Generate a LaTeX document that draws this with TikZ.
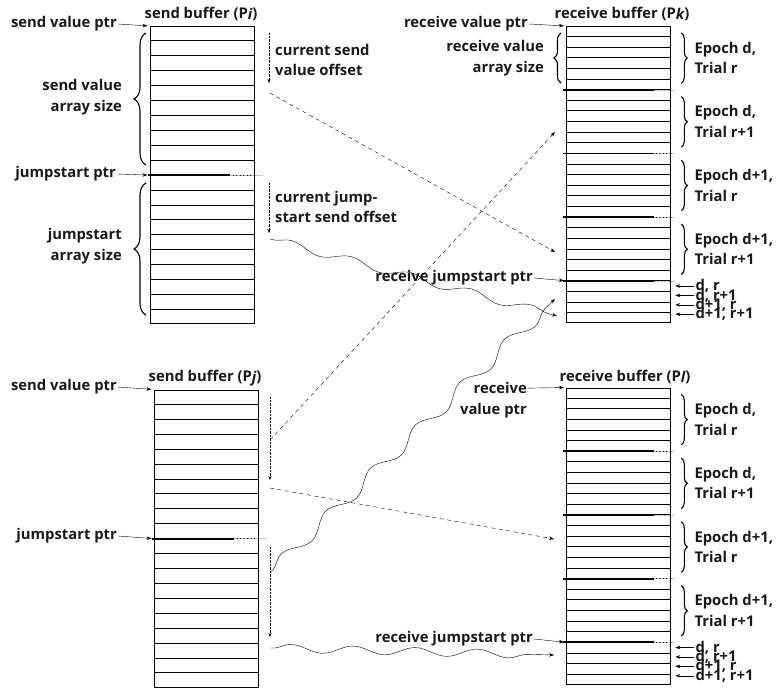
\documentclass[tikz,border=0pt]{standalone}
\usepackage{fontspec}
\setmainfont{Open Sans}
\usetikzlibrary{arrows.meta,calc,decorations.pathreplacing,decorations.pathmorphing}

\begin{document}
\begin{tikzpicture}[x=1pt, y=-1pt,
    every node/.style={font=\bfseries\fontsize{14.8}{20.5}\selectfont, inner sep=1pt, text=black!90},
    buf/.style={draw, line width=1.3pt, anchor=north west, minimum width=104pt, inner sep=0pt},
    row/.style={line width=0.9pt},
    grp/.style={line width=1.8pt},
    ext/.style={gray!60, densely dotted, thin},
    ptr/.style={-{Stealth[length=5pt,width=3.5pt]}, thin, shorten >=2pt},
    offs/.style={-{Stealth[length=4pt,width=3pt]}, densely dotted, thin},
    xfer/.style={-{Stealth[length=5pt,width=3.5pt]}, dash pattern=on 4pt off 3.5pt, thin},
    jump/.style={-{Stealth[length=5pt,width=3.5pt]}, thin, decorate,
        decoration={snake, amplitude=#1, segment length=62pt, pre length=2pt, post length=7pt}},
    jump/.default=4pt,
    brc/.style={decorate, decoration={brace, amplitude=#1}, line width=1.1pt}
]
    \useasboundingbox (0,0) rectangle (777,688);

    % the four buffers
    \node[buf, minimum height=297pt] (bufi) at (149.5,26) {};
    \node[buf, minimum height=297pt] (bufj) at (153.5,389.5) {};
    \node[buf, minimum height=296pt] (bufk) at (566,26) {};
    \node[buf, minimum height=296pt] (bufl) at (566,387.5) {};

    \foreach \b in {bufi,bufj}{
        \foreach \k in {1,...,19}
            \draw[row] ($(\b.north west)!\k/20!(\b.south west)$) -- ($(\b.north east)!\k/20!(\b.south east)$);
        \draw[grp] ($(\b.north west)!0.5!(\b.south west)$) +(-2,0) -- +(80,0);
        \draw[ext] ($(\b.north west)!0.5!(\b.south west)$) +(80,0) -- +(113,0);
    }
    \foreach \b in {bufk,bufl}{
        \foreach \k in {1,...,27}
            \draw[row] ($(\b.north west)!\k/28!(\b.south west)$) -- ($(\b.north east)!\k/28!(\b.south east)$);
        \foreach \g in {6,12,18,24}{
            \draw[grp] ($(\b.north west)!\g/28!(\b.south west)$) +(-3,0) -- +(88,0);
            \draw[ext] ($(\b.north west)!\g/28!(\b.south west)$) +(88,0) -- +(108,0);
        }
        % epoch braces
        \foreach \g/\lab in {0/{Epoch d,\\Trial r}, 1/{Epoch d,\\Trial r+1},
                             2/{Epoch d+1,\\Trial r}, 3/{Epoch d+1,\\Trial r+1}}{
            \draw[brc=6pt] ($(\b.north east)!{(\g*6+0.65)/28}!(\b.south east)+(10,0)$)
                        -- ($(\b.north east)!{(\g*6+5.4)/28}!(\b.south east)+(10,0)$);
            \node[anchor=west, align=left] (ep\b\g) at ($(\b.north east)!{(\g*6+3)/28}!(\b.south east)+(22,0)$) {\lab};
        }
        % trailing single rows
        \foreach \j/\lab in {0/{d, r}, 1/{d, r+1}, 2/{d+1, r}, 3/{d+1, r+1}}{
            \node[anchor=west] (sl\b\j) at ($(\b.north east)!24/28!(\b.south east)+(23,5.2+9.4*\j)$) {\lab};
            \coordinate (se\b\j) at ($(\b.east |- sl\b\j.west)+(4,0)$);
            \draw[ptr, shorten >=0pt] (sl\b\j.west) -- (se\b\j);
        }
    }

    % buffer titles
    \node (tbi) at (201,14) {send buffer (P\raisebox{-1.5pt}{\itshape i})};
    \node (tbj) at (205,378) {send buffer (P\raisebox{-1.5pt}{\itshape j})};
    \node (tbk) at (622,14) {receive buffer (P\raisebox{-1.5pt}{\itshape k})};
    \node (tbl) at (625,377) {receive buffer (P\raisebox{-1.5pt}{\itshape l})};

    % sender P_i
    \coordinate (jsi) at ($(bufi.north west)!0.5!(bufi.south west)$);
    \node[anchor=east] (svpi) at (118,24) {send value ptr};
    \node[anchor=east] (jspi) at (117,174) {jumpstart ptr};
    \node[anchor=east, align=right] (svai) at (123,97) {send value\\array size};
    \node[anchor=east, align=right] (jsai) at (123,246) {jumpstart\\array size};
    \draw[ptr] (svpi.east) -- (bufi.north west);
    \draw[ptr] (jspi.east) -- (jsi);
    \draw[brc=12pt] (146,165) -- (146,33);
    \draw[brc=12pt] (146,315) -- (146,183);

    \node[anchor=west, align=left] (csvo) at (274,60) {current send\\value offset};
    \node[anchor=west, align=left] (cjso) at (274,207) {current jump-\\start send offset};
    \coordinate (oi1) at (269,33);  \coordinate (oi2) at (269,83);
    \coordinate (oi3) at (269,183); \coordinate (oi4) at (269,233);
    \draw[offs] (oi1) -- (oi2);
    \draw[offs] (oi3) -- (oi4);

    % sender P_j
    \coordinate (jsj) at ($(bufj.north west)!0.5!(bufj.south west)$);
    \node[anchor=east] (svpj) at (118,387) {send value ptr};
    \node[anchor=east] (jspj) at (118,536) {jumpstart ptr};
    \draw[ptr] (svpj.east) -- (bufj.north west);
    \draw[ptr] (jspj.east) -- (jsj);
    \coordinate (oj1) at (270,397); \coordinate (oj2) at (270,480);
    \coordinate (oj3) at (270,547); \coordinate (oj4) at (270,637);
    \draw[offs] (oj1) -- (oj2);
    \draw[offs] (oj3) -- (oj4);

    % receiver P_k
    \coordinate (jsk) at ($(bufk.north west)!24/28!(bufk.south west)$);
    \node[anchor=east] (rvpk) at (529,24) {receive value ptr};
    \node[anchor=east, align=right] (rvak) at (545,58) {receive value\\array size};
    \node[anchor=east] (rjpk) at (534,278) {receive jumpstart ptr};
    \draw[ptr] (rvpk.east) -- (bufk.north west);
    \draw[ptr] (rjpk.east) -- (jsk);
    \draw[brc=7pt] (561,83) -- (561,33);

    % receiver P_l
    \coordinate (jsl) at ($(bufl.north west)!24/28!(bufl.south west)$);
    \node[anchor=east, align=right] (rvpl) at (528,400) {receive\\value ptr};
    \node[anchor=east] (rjpl) at (534,639) {receive jumpstart ptr};
    \draw[ptr] ([yshift=-7pt]rvpl.north east) -- (bufl.north west);
    \draw[ptr] (rjpl.east) -- (jsl);

    % value transfers
    \coordinate (xi) at (270,93);  \coordinate (xik) at (555,252);
    \coordinate (xj1) at (270,440); \coordinate (xjk) at (555,132);
    \coordinate (xj2) at (270,488); \coordinate (xjl) at (554,539);
    \draw[xfer] (xi) -- (xik);
    \draw[xfer] (xj1) -- (xjk);
    \draw[xfer] (xj2) -- (xjl);

    % jumpstart transfers
    \coordinate (wi) at (270,239);  \coordinate (wik) at (557,316);
    \coordinate (wj1) at (270,573); \coordinate (wjk) at (555,299);
    \coordinate (wj2) at (270,648); \coordinate (wjl) at (554,655);
    \draw[jump] (wi) -- (wik);
    \draw[jump=6pt] (wj1) -- (wjk);
    \draw[jump] (wj2) -- (wjl);
\end{tikzpicture}
\end{document}
